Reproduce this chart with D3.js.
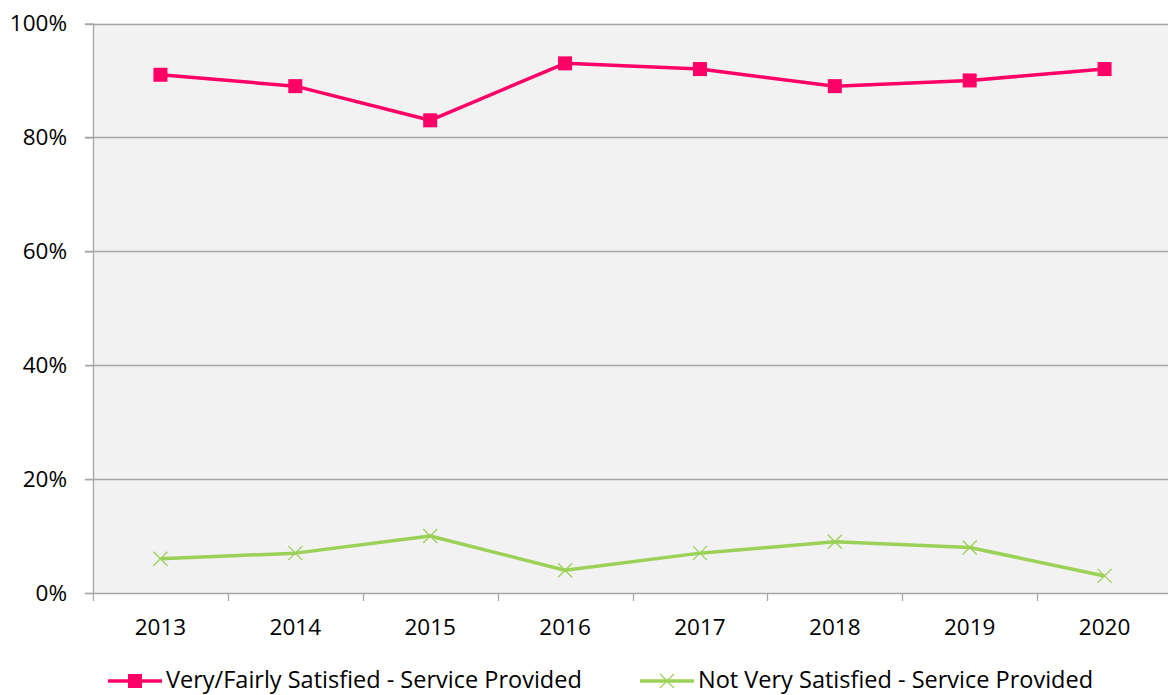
<!DOCTYPE html>
<html>
<head>
<meta charset="utf-8">
<script src="https://cdn.jsdelivr.net/npm/d3@7"></script>
<style>
  body { margin: 0; background: #fff; }
  svg { display: block; font-family: "Open Sans", sans-serif; }
</style>
</head>
<body>
<div id="chart-area"></div>
<script>
// chart data
var years = ["2013", "2014", "2015", "2016", "2017", "2018", "2019", "2020"];
var satisfied = [91, 89, 83, 93, 92, 89, 90, 92];
var notSatisfied = [6, 7, 10, 4, 7, 9, 8, 3];
var yTicks = [0, 20, 40, 60, 80, 100];
var seriesNames = ["Very/Fairly Satisfied - Service Provided", "Not Very Satisfied - Service Provided"];

var width = 1168, height = 695;
var margin = {left: 93, top: 23.5, right: -4, bottom: 102};

var svg = d3.select("#chart-area").append("svg")
    .attr("width", width)
    .attr("height", height);

var x = d3.scaleBand()
    .domain(years)
    .range([margin.left, width - margin.right]);

var y = d3.scaleLinear()
    .domain([0, 100])
    .range([height - margin.bottom, margin.top]);

// plot background
svg.append("rect")
    .attr("x", margin.left)
    .attr("y", y(100))
    .attr("width", width - margin.right - margin.left)
    .attr("height", y(0) - y(100))
    .attr("fill", "#f2f2f2");

// gridlines
svg.selectAll(".grid")
    .data(yTicks.filter(function(d) { return d > 0; }))
    .enter().append("line")
    .attr("x1", margin.left - 8)
    .attr("x2", width - margin.right)
    .attr("y1", function(d) { return Math.round(y(d)) + 0.5; })
    .attr("y2", function(d) { return Math.round(y(d)) + 0.5; })
    .attr("stroke", "#a6a6a6")
    .attr("stroke-width", 1.3);

// y axis
var yAxis = svg.append("g")
    .attr("transform", "translate(" + margin.left + ",0)")
    .call(d3.axisLeft(y).tickValues(yTicks).tickSize(8).tickPadding(18)
        .tickFormat(function(d) { return d + "%"; }));
yAxis.selectAll("line").attr("stroke", "#a6a6a6").attr("stroke-width", 1.3);
yAxis.select(".domain").attr("stroke", "#a6a6a6").attr("stroke-width", 1.3).attr("d", "M0.5," + y(100) + "V" + y(0));
yAxis.selectAll("text").attr("font-size", 22.5).attr("fill", "#000").attr("font-family", "Open Sans");

// x axis
var bounds = years.map(function(d) { return x(d); }).concat([width - margin.right]);
var xg = svg.append("g");
xg.append("line")
    .attr("x1", margin.left - 8).attr("x2", width)
    .attr("y1", Math.round(y(0)) + 0.5).attr("y2", Math.round(y(0)) + 0.5)
    .attr("stroke", "#a6a6a6").attr("stroke-width", 1.3);
xg.selectAll(".xt")
    .data(bounds)
    .enter().append("line")
    .attr("x1", function(d) { return Math.round(d) + 0.5; })
    .attr("x2", function(d) { return Math.round(d) + 0.5; })
    .attr("y1", y(0))
    .attr("y2", y(0) + 8)
    .attr("stroke", "#a6a6a6").attr("stroke-width", 1.3);
xg.selectAll(".xl")
    .data(years)
    .enter().append("text")
    .attr("x", function(d) { return x(d) + x.bandwidth() / 2; })
    .attr("y", y(0) + 42)
    .attr("text-anchor", "middle")
    .attr("font-size", 22.5)
    .text(function(d) { return d; });

var cx = function(d, i) { return x(years[i]) + x.bandwidth() / 2; };

var line = d3.line()
    .x(cx)
    .y(function(d) { return y(d); });

// satisfied series
svg.append("path")
    .datum(satisfied)
    .attr("d", line)
    .attr("fill", "none")
    .attr("stroke", "#ff0066")
    .attr("stroke-width", 3.5)
    .attr("stroke-linejoin", "round");

svg.selectAll(".sq")
    .data(satisfied)
    .enter().append("rect")
    .attr("x", function(d, i) { return cx(d, i) - 7; })
    .attr("y", function(d) { return y(d) - 7; })
    .attr("width", 14)
    .attr("height", 14)
    .attr("fill", "#ff0066");

// not satisfied series
svg.append("path")
    .datum(notSatisfied)
    .attr("d", line)
    .attr("fill", "none")
    .attr("stroke", "#9bd157")
    .attr("stroke-width", 3.5)
    .attr("stroke-linejoin", "round");

var cross = function(px, py, s) {
    return "M" + (px - s) + "," + (py - s) + "L" + (px + s) + "," + (py + s) +
        "M" + (px - s) + "," + (py + s) + "L" + (px + s) + "," + (py - s);
};

svg.selectAll(".xm")
    .data(notSatisfied)
    .enter().append("path")
    .attr("d", function(d, i) { return cross(cx(d, i), y(d), 7); })
    .attr("stroke", "#9bd157")
    .attr("stroke-width", 1.3)
    .attr("fill", "none");

// legend
var legendY = 681;
var legend = [
    {name: seriesNames[0], x: 108, color: "#ff0066", marker: "square"},
    {name: seriesNames[1], x: 640, color: "#9bd157", marker: "cross"}
];
legend.forEach(function(l) {
    var g = svg.append("g");
    g.append("line")
        .attr("x1", l.x).attr("x2", l.x + 54)
        .attr("y1", legendY).attr("y2", legendY)
        .attr("stroke", l.color).attr("stroke-width", 3.5);
    if (l.marker == "square") {
        g.append("rect")
            .attr("x", l.x + 27 - 7).attr("y", legendY - 7)
            .attr("width", 14).attr("height", 14)
            .attr("fill", l.color);
    } else {
        g.append("path")
            .attr("d", cross(l.x + 27, legendY, 7))
            .attr("stroke", l.color).attr("stroke-width", 1.3);
    }
    g.append("text")
        .attr("x", l.x + 58)
        .attr("y", legendY + 7)
        .attr("font-size", 23.5)
        .text(l.name);
});
</script>
</body>
</html>
